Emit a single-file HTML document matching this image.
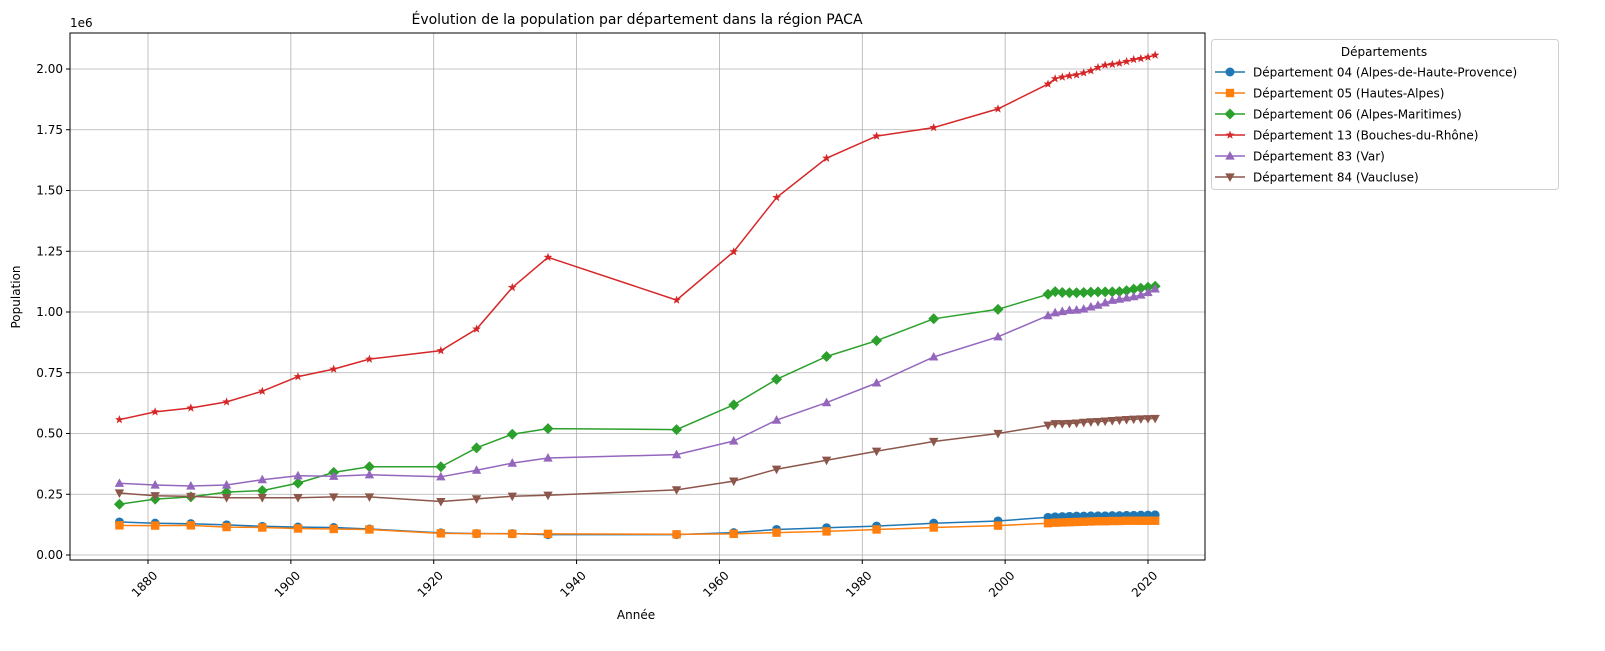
<!DOCTYPE html>
<html><head><meta charset="utf-8"><style>
body{margin:0;background:#fff}
svg{font-family:"DejaVu Sans","Liberation Sans",sans-serif}
</style></head><body>
<svg id="s" width="1605" height="646" xmlns="http://www.w3.org/2000/svg"></svg>
<script>
const s=document.getElementById('s');
let h='';
const X=y=>148+(y-1880)*1000/140, Y=v=>555-v*243;
const L=70,R=1205,T=33,B=560;
for(let yr=1880;yr<=2020;yr+=20){const x=X(yr);
h+=`<line x1="${x}" y1="${T}" x2="${x}" y2="${B}" stroke="#b0b0b0" stroke-width="0.8"/>`;
h+=`<line x1="${x}" y1="${B}" x2="${x}" y2="${B+4}" stroke="#000"/>`;
h+=`<text x="${x+4}" y="${B+10}" font-size="12" text-anchor="end" transform="rotate(-45 ${x+4} ${B+10})" dominant-baseline="hanging">${yr}</text>`;}
for(let i=0;i<=8;i++){const v=i*0.25,y=Y(v);
h+=`<line x1="${L}" y1="${y}" x2="${R}" y2="${y}" stroke="#b0b0b0" stroke-width="0.8"/>`;
h+=`<line x1="${L-4}" y1="${y}" x2="${L}" y2="${y}" stroke="#000"/>`;
h+=`<text x="${L-7}" y="${y+4}" font-size="12" text-anchor="end">${v.toFixed(2)}</text>`;}
const yrs=[1876,1881,1886,1891,1896,1901,1906,1911,1921,1926,1931,1936,1954,1962,1968,1975,1982,1990,1999];
for(let y=2006;y<=2021;y++)yrs.push(y);
const D=[
["#1f77b4","o","Département 04 (Alpes-de-Haute-Provence)",[0.136,0.131,0.129,0.124,0.118,0.115,0.113,0.107,0.091,0.088,0.088,0.084,0.084,0.092,0.105,0.112,0.119,0.131,0.140,0.155,0.157,0.158,0.159,0.160,0.160,0.161,0.161,0.161,0.162,0.162,0.163,0.163,0.164,0.164,0.165]],
["#ff7f0e","s","Département 05 (Hautes-Alpes)",[0.122,0.121,0.122,0.115,0.113,0.109,0.107,0.105,0.089,0.088,0.087,0.087,0.085,0.087,0.092,0.097,0.105,0.113,0.121,0.131,0.133,0.134,0.135,0.136,0.137,0.138,0.139,0.139,0.140,0.140,0.141,0.141,0.141,0.141,0.141]],
["#2ca02c","D","Département 06 (Alpes-Maritimes)",[0.209,0.230,0.239,0.259,0.265,0.296,0.340,0.363,0.363,0.441,0.497,0.520,0.516,0.618,0.723,0.817,0.882,0.972,1.011,1.073,1.084,1.080,1.079,1.079,1.080,1.082,1.083,1.083,1.083,1.084,1.088,1.094,1.098,1.102,1.106]],
["#d62728","*","Département 13 (Bouches-du-Rhône)",[0.557,0.589,0.605,0.630,0.674,0.734,0.765,0.806,0.841,0.930,1.101,1.225,1.049,1.248,1.471,1.633,1.724,1.759,1.836,1.938,1.960,1.967,1.972,1.976,1.984,1.993,2.006,2.016,2.019,2.024,2.031,2.039,2.043,2.049,2.057]],
["#9467bd","^","Département 83 (Var)",[0.295,0.288,0.284,0.288,0.310,0.326,0.324,0.330,0.322,0.349,0.378,0.399,0.413,0.469,0.555,0.627,0.708,0.815,0.898,0.985,0.997,1.002,1.007,1.008,1.012,1.021,1.028,1.038,1.048,1.053,1.058,1.063,1.070,1.080,1.095]],
["#8c564b","v","Département 84 (Vaucluse)",[0.255,0.244,0.241,0.236,0.236,0.236,0.239,0.239,0.220,0.231,0.242,0.246,0.268,0.304,0.353,0.390,0.427,0.467,0.500,0.534,0.540,0.540,0.541,0.543,0.546,0.548,0.549,0.551,0.553,0.555,0.557,0.559,0.560,0.561,0.562]]];
function mk(t,x,y,c){
 if(t=="o")return `<circle cx="${x}" cy="${y}" r="4.5" fill="${c}"/>`;
 if(t=="s")return `<rect x="${x-4.2}" y="${y-4.2}" width="8.4" height="8.4" fill="${c}"/>`;
 if(t=="D")return `<polygon points="${x},${y-5.5} ${x+5.5},${y} ${x},${y+5.5} ${x-5.5},${y}" fill="${c}"/>`;
 if(t=="^")return `<polygon points="${x},${y-5} ${x+4.7},${y+3.6} ${x-4.7},${y+3.6}" fill="${c}"/>`;
 if(t=="v")return `<polygon points="${x},${y+5} ${x+4.7},${y-3.6} ${x-4.7},${y-3.6}" fill="${c}"/>`;
 let p=[];for(let i=0;i<10;i++){const r=i%2?1.9:4.6,a=-Math.PI/2+i*Math.PI/5;p.push((x+r*Math.cos(a)).toFixed(1)+","+(y+r*Math.sin(a)).toFixed(1));}
 return `<polygon points="${p.join(' ')}" fill="${c}"/>`;}
D.forEach(([c,t,n,v])=>{
 h+=`<polyline fill="none" stroke="${c}" stroke-width="1.5" points="${v.map((a,i)=>X(yrs[i]).toFixed(1)+","+Y(a).toFixed(1)).join(' ')}"/>`;
 v.forEach((a,i)=>h+=mk(t,X(yrs[i]),Y(a),c));});
h+=`<rect x="${L}" y="${T}" width="${R-L}" height="${B-T}" fill="none" stroke="#000" stroke-width="1"/>`;
h+=`<text x="637" y="24" font-size="14" text-anchor="middle">Évolution de la population par département dans la région PACA</text>`;
h+=`<text x="70" y="27" font-size="12">1e6</text>`;
h+=`<text x="636" y="619" font-size="12" text-anchor="middle">Année</text>`;
h+=`<text x="20" y="297" font-size="12" text-anchor="middle" transform="rotate(-90 20 297)">Population</text>`;
h+=`<rect x="1211.5" y="39.5" width="347" height="150" rx="3" fill="#fff" stroke="#d0d0d0"/>`;
h+=`<text x="1384" y="56" font-size="12" text-anchor="middle">Départements</text>`;
D.forEach(([c,t,n],i)=>{const y=72+i*21;
 h+=`<line x1="1215" y1="${y}" x2="1245" y2="${y}" stroke="${c}" stroke-width="1.5"/>`+mk(t,1230,y,c);
 h+=`<text x="1253" y="${y+4.5}" font-size="12">${n}</text>`;});
s.innerHTML=h;
</script>
</body></html>
